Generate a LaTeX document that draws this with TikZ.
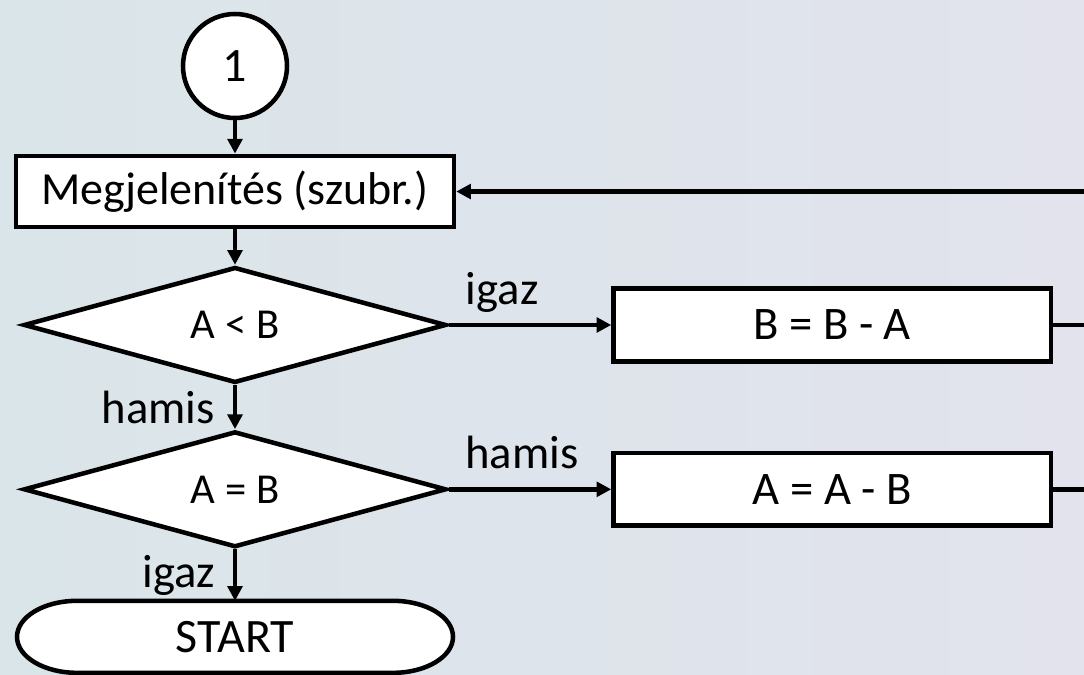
\documentclass[tikz,border=0pt]{standalone}
\usepackage{fontspec}
\setmainfont{Carlito}
\usetikzlibrary{positioning, shapes.geometric, arrows.meta, backgrounds}
\definecolor{bgleft}{RGB}{218,229,233}
\definecolor{bgright}{RGB}{226,227,237}

\begin{document}
\begin{tikzpicture}[x=0.75pt, y=0.75pt, line width=3.4pt,
		flow/.style={-{Triangle[length=11pt, width=11pt]}},
		conn/.style={circle, draw, fill=white, minimum size=78pt, inner sep=0pt, font=\fontsize{36}{43}\selectfont},
		proc/.style={rectangle, draw, fill=white, minimum width=328.5pt, minimum height=53.5pt, inner sep=0pt, font=\fontsize{34.5}{41}\selectfont},
		op/.style={proc, minimum width=328pt, minimum height=54.5pt, font=\fontsize{35}{42}\selectfont},
		dec/.style={diamond, draw, fill=white, minimum width=317pt, minimum height=84pt, inner sep=0pt, font=\fontsize{32}{38}\selectfont},
		term/.style={rectangle, minimum width=327pt, minimum height=54pt, outer sep=0pt, font=\fontsize{36}{43}\selectfont},
		lbl/.style={font=\fontsize{35}{42}\selectfont},
		toplbl/.style={lbl, anchor=base, yshift=15.5pt}]
		\useasboundingbox (0,0) rectangle (1084,-674);
		\begin{scope}[on background layer]
			\shade[left color=bgleft, right color=bgright] (0,0) rectangle (1084,-674);
		\end{scope}
		\node[conn] (C1) at (235,-66) {1};
		\node[proc] (Disp) [below=25pt of C1] {Megjelenítés (szubr.)};
		\node[dec] (D1) [below=26.5pt of Disp] {A < B};
		\node[dec] (D2) [below=33pt of D1] {A = B};
		\node[term] (Start) [below=38.5pt of D2] {START};
		\node[op] (B1) [right=122pt of D1] {B = B - A};
		\node[op] (B2) [right=122pt of D2] {A = A - B};
		\coordinate (loop) at (1110,0);
		\begin{scope}[on background layer]
			\draw[line width=3.4pt, fill=white] ([xshift=45pt]Start.north west) -- ([xshift=-45pt]Start.north east)
				arc[start angle=90, end angle=-90, x radius=45pt, y radius=27pt]
				-- ([xshift=45pt]Start.south west)
				arc[start angle=270, end angle=90, x radius=45pt, y radius=27pt] -- cycle;
		\end{scope}
		\draw[flow] (C1) -- (Disp);
		\draw[flow] (Disp) -- (D1);
		\draw[flow] (D1.south) -- node[lbl, left=10pt] {hamis} (D2.north);
		\draw[flow] (D2.south) -- node[lbl, left=10pt] {igaz} (Start.north);
		\draw[flow] (D1.east) -- node[toplbl, pos=0.33] {igaz} (B1.west);
		\draw[flow] (D2.east) -- node[toplbl, pos=0.45] {hamis} (B2.west);
		\draw (B1.east) -- (B1.east -| loop);
		\draw[flow] (B2.east) -- (B2.east -| loop) |- (Disp.east);
	\end{tikzpicture}
\end{document}
